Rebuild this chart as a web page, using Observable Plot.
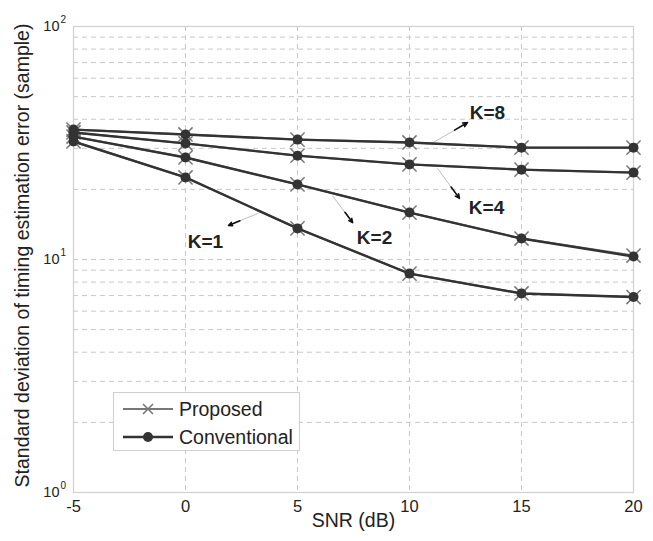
<!DOCTYPE html>
<html><head><meta charset="utf-8">
<script src="https://cdn.jsdelivr.net/npm/d3@7"></script>
<script src="https://cdn.jsdelivr.net/npm/@observablehq/plot@0.6"></script>
<style>
body{margin:0;background:#fff;font-family:Arial,"Liberation Sans",sans-serif}
#wrap{position:relative;width:653px;height:541px}
#legend{position:absolute;left:113px;top:392px;width:187px;height:59px;border:1px solid #cfcfcf;background:#fff;box-sizing:border-box}
</style></head><body>
<div id="wrap"></div>
<script>
// ---- data ----
const snr = [-5, 0, 5, 10, 15, 20];
const kNames = ["K=1", "K=2", "K=4", "K=8"];
const proposedK1 = [32.1, 22.5, 13.6, 8.7, 7.15, 6.9];
const proposedK2 = [33.7, 27.4, 21.0, 15.9, 12.3, 10.4];
const proposedK4 = [35.1, 31.5, 27.9, 25.6, 24.3, 23.6];
const proposedK8 = [36.1, 34.4, 32.7, 31.8, 30.2, 30.2];
const conventionalK1 = [32.1, 22.5, 13.6, 8.7, 7.15, 6.9];
const conventionalK2 = [33.7, 27.4, 21.0, 15.9, 12.3, 10.3];
const conventionalK4 = [35.1, 31.5, 27.9, 25.6, 24.3, 23.6];
const conventionalK8 = [36.1, 34.4, 32.7, 31.8, 30.2, 30.2];
const xTicks = [-5, 0, 5, 10, 15, 20];
const yTicks = [1, 10, 100];
const yTickExp = ["0", "1", "2"];
const yMinor = [2,3,4,5,6,7,8,9,20,30,40,50,60,70,80,90];
// annotation anchors in data units (snr, std)
const annLabel = ["K=8", "K=4", "K=2", "K=1"];
const annTailX = [11.07, 11.25, 6.56, 3.26];
const annTailY = [31.8, 24.6, 18.8, 15.8];
const annHeadX = [12.59, 12.23, 7.46, 1.92];
const annHeadY = [38.7, 18.3, 14.4, 14.0];
const annTextX = [13.48, 13.44, 8.44, 0.89];
const annTextY = [42.7, 16.7, 12.4, 11.9];

// ---- tables ----
const prop = [proposedK1, proposedK2, proposedK4, proposedK8];
const conv = [conventionalK1, conventionalK2, conventionalK4, conventionalK8];
const rowsOf = (arrs) => arrs.flatMap((a, i) => a.map((v, j) => ({k: kNames[i], x: snr[j], y: v})));
const propRows = rowsOf(prop);
const convRows = rowsOf(conv);
const ann = annLabel.map((t, i) => ({
  t, x1: annTailX[i], y1: annTailY[i], x2: annHeadX[i], y2: annHeadY[i],
  xm: annTailX[i] + (annHeadX[i] - annTailX[i]) * 0.62,
  ym: Math.exp(Math.log(annTailY[i]) + (Math.log(annHeadY[i]) - Math.log(annTailY[i])) * 0.62),
  tx: annTextX[i], ty: annTextY[i]
}));

const dash = "5,4";
const chart = Plot.plot({
  width: 653, height: 541,
  marginLeft: 73, marginRight: 20, marginTop: 26, marginBottom: 49,
  style: {fontFamily: "Arial, 'Liberation Sans', sans-serif", background: "#fff", color: "#222"},
  x: {domain: [-5, 20]},
  y: {type: "log", domain: [1, 100]},
  marks: [
    Plot.gridY(yMinor, {stroke: "#c8c8c8", strokeOpacity: 1, strokeDasharray: dash, strokeWidth: 1}),
    Plot.gridY([10], {stroke: "#c8c8c8", strokeOpacity: 1, strokeDasharray: dash, strokeWidth: 1}),
    Plot.gridX([0, 5, 10, 15], {stroke: "#c8c8c8", strokeOpacity: 1, strokeDasharray: dash, strokeWidth: 1}),
    Plot.frame({stroke: "#d0d0d0", strokeWidth: 1.2}),
    Plot.axisX(xTicks, {tickSize: 0, tickPadding: 8, fontSize: 16.5, label: null, fill: "#222", tickFormat: d => String(d)}),
    Plot.axisY(yTicks, {tickSize: 0, tickFormat: () => "", label: null}),
    Plot.text(yTicks, {y: d => d, frameAnchor: "left", dx: -14, textAnchor: "end", text: () => "10", fontSize: 14.5, fill: "#222"}),
    Plot.text(yTicks, {y: d => d, frameAnchor: "left", dx: -13, dy: -7, textAnchor: "start", text: (d, i) => yTickExp[i], fontSize: 10, fill: "#222"}),
    Plot.text(["Standard deviation of timing estimation error (sample)"], {frameAnchor: "left", dx: -51, dy: -4, rotate: -90, textAnchor: "middle", text: d => d, fontSize: 19.5, fill: "#222"}),
    Plot.text(["SNR (dB)"], {frameAnchor: "bottom", dy: 34, text: d => d, fontSize: 19.5, fill: "#222"}),
    // annotations
    Plot.link(ann, {x1: "x1", y1: "y1", x2: "x2", y2: "y2", stroke: "#bdbdbd", strokeWidth: 1}),
    Plot.arrow(ann, {x1: "xm", y1: "ym", x2: "x2", y2: "y2", stroke: "#111", strokeWidth: 1.6, headLength: 9, headAngle: 50}),
    Plot.text(ann, {x: "tx", y: "ty", text: "t", fontSize: 19, fontWeight: "bold", fill: "#222"}),
    // proposed (gray, x markers)
    Plot.line(propRows, {x: "x", y: "y", z: "k", stroke: "#777", strokeWidth: 2}),
    Plot.dot(propRows, {x: "x", y: "y", symbol: "times", r: 6.5, stroke: "#777", strokeWidth: 1.5}),
    // conventional (dark, filled circles)
    Plot.line(convRows, {x: "x", y: "y", z: "k", stroke: "#333", strokeWidth: 2.4}),
    Plot.dot(convRows, {x: "x", y: "y", r: 5, fill: "#333", stroke: "none"})
  ]
});
const wrap = document.getElementById("wrap");
wrap.appendChild(chart);

const legend = document.createElement("div");
legend.id = "legend";
legend.innerHTML = `<svg width="187" height="59" style="position:absolute;left:-1px;top:-1px">
  <line x1="10" x2="60" y1="17" y2="17" stroke="#777" stroke-width="2"/>
  <path d="M30,12L40,22M30,22L40,12" stroke="#777" stroke-width="1.6"/>
  <text x="66" y="24" font-size="19.5" fill="#222" font-family="Arial, 'Liberation Sans', sans-serif">Proposed</text>
  <line x1="10" x2="60" y1="45" y2="45" stroke="#333" stroke-width="2.4"/>
  <circle cx="35" cy="45" r="5" fill="#333"/>
  <text x="66" y="52" font-size="19.5" fill="#222" font-family="Arial, 'Liberation Sans', sans-serif">Conventional</text>
</svg>`;
wrap.appendChild(legend);
</script>
</body></html>
